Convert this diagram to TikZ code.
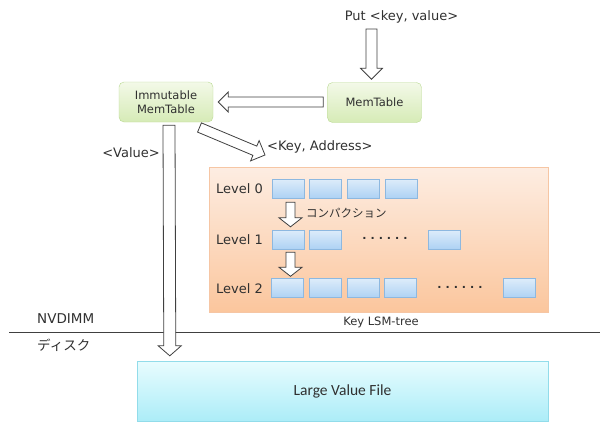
\documentclass[tikz,border=0pt]{standalone}
\usepackage{fontspec}
\setmainfont{DejaVu Sans}
\newfontfamily\jpfont{Noto Sans CJK JP}
\newfontfamily\calfont{Carlito}
\usetikzlibrary{calc}
\definecolor{txt}{HTML}{303030}
\definecolor{arr}{HTML}{404040}
\definecolor{gtop}{HTML}{F3F9E8}
\definecolor{gbot}{HTML}{D6EBB6}
\definecolor{gdraw}{HTML}{B9D992}
\definecolor{otop}{HTML}{FDEDE2}
\definecolor{obot}{HTML}{FBC69D}
\definecolor{odraw}{HTML}{F6C6A4}
\definecolor{btop}{HTML}{DDECFA}
\definecolor{bbot}{HTML}{AED2F4}
\definecolor{bdraw}{HTML}{8DB8E0}
\definecolor{ctop}{HTML}{E8FCFE}
\definecolor{cbot}{HTML}{ACEDF8}
\definecolor{cdraw}{HTML}{92DCEA}
\tikzset{
  x=1pt, y=-1pt,
  lbl/.style={text=txt, inner sep=0pt},
  memnode/.style={draw=gdraw, rounded corners=5pt, top color=gtop, bottom color=gbot,
     minimum width=94pt, minimum height=40pt, align=center, font=\fontsize{11.5}{14}\selectfont, text=txt, inner sep=0pt},
  sst/.style={draw=bdraw, top color=btop, bottom color=bbot,
     minimum width=32pt, minimum height=19pt, inner sep=0pt},
  blk/.style={draw=arr, fill=white, line width=0.8pt, line join=miter},
}
\newcommand\blockarrow[5]{% start, end, half shaft, half head, head length
  \draw[blk] ($(#1)!#3!90:(#2)$) -- ($($(#2)!#5!(#1)$)!#3!90:(#2)$)
    -- ($($(#2)!#5!(#1)$)!#4!90:(#2)$) -- (#2)
    -- ($($(#2)!#5!(#1)$)!#4!-90:(#2)$) -- ($($(#2)!#5!(#1)$)!#3!-90:(#2)$)
    -- ($(#1)!#3!-90:(#2)$) -- cycle;}
\newcommand\dotrow{.\hspace{4pt}.\hspace{4pt}.\hspace{4pt}.\hspace{4pt}.\hspace{4pt}.}
\begin{document}
\begin{tikzpicture}
\useasboundingbox (0,0) rectangle (600,423);
% texts top
\node[lbl, font=\fontsize{13}{15}\selectfont] (put) at (401.5,17) {Put <key, value>};
\node[memnode] (mem) at (374.5,102.5) {MemTable};
\node[memnode] (imm) at (166,102) {Immutable\\MemTable};
% orange region
\node[draw=odraw, top color=otop, bottom color=obot, minimum width=339pt, minimum height=145pt, inner sep=0pt] (lsm) at (378.5,239.5) {};
\node[lbl, font=\fontsize{11.5}{14}\selectfont] (lsmlbl) at (381,322) {Key LSM-tree};
% levels
\foreach \i/\yy in {0/189, 1/240, 2/289}
  \node[lbl, font=\fontsize{13}{15}\selectfont, anchor=east] (lv\i) at (263,\yy) {Level \i};
\foreach \n/\xx in {a/288.5, b/325.5, c/363.5, d/401.5}
  \node[sst] (s0\n) at (\xx,188.5) {};
\foreach \n/\xx in {a/288.5, b/325.5, z/444.5}
  \node[sst] (s1\n) at (\xx,239.5) {};
\foreach \n/\xx in {a/287.5, b/325.5, c/363.5, d/400.5, z/519.5}
  \node[sst] (s2\n) at (\xx,288) {};
\node[lbl, font=\fontsize{11}{13}\bfseries\selectfont] (dots1) at (385,238) {\dotrow};
\node[lbl, font=\fontsize{11}{13}\bfseries\selectfont] (dots2) at (460,287) {\dotrow};
\coordinate (c1s) at ($(s0a.south)+(2,4)$);
\coordinate (c1e) at ($(s1a.north)+(2,-3)$);
\coordinate (c2s) at ($(s1a.south)+(2,3)$);
\coordinate (c2e) at ($(s2a.north)+(3,-2)$);
\blockarrow{c1s}{c1e}{4.5pt}{11.5pt}{9pt}
\blockarrow{c2s}{c2e}{4.5pt}{11.5pt}{9pt}
\node[lbl, font=\jpfont\fontsize{11.5}{13}\selectfont, anchor=west] (comp) at (306,213) {コンパクション};
% divider
\coordinate (l0) at (9,332);
\coordinate (l1) at (600,332);
\draw[arr, line width=0.8pt] (l0) -- (l1);
\node[lbl, font=\fontsize{13.5}{15}\selectfont, anchor=west] (nv) at (37,319) {NVDIMM};
\node[lbl, font=\jpfont\fontsize{13.5}{15}\selectfont, anchor=west] (disk) at (37,345) {ディスク};
% large value file
\node[draw=cdraw, top color=ctop, bottom color=cbot, minimum width=411pt, minimum height=60pt, inner sep=0pt, text=txt, font=\calfont\fontsize{15.5}{18}\selectfont] (lvf) at (342.5,391) {Large Value File};
% arrows
\coordinate (p1) at (371.5,29);
\coordinate (p2) at ($(mem.north)+(-3,-3)$);
\blockarrow{p1}{p2}{5.5pt}{11pt}{11pt}
\coordinate (m1) at ($(mem.west)+(-4,-0.5)$);
\coordinate (m2) at ($(imm.east)+(5,0)$);
\blockarrow{m1}{m2}{5pt}{10pt}{10pt}
\coordinate (k1) at (199.5,127.5);
\coordinate (k2) at (265,155);
\blockarrow{k1}{k2}{5pt}{11pt}{11pt}
\node[lbl, font=\fontsize{13}{15}\selectfont, anchor=west] (ka) at (267,147) {<Key, Address>};
\coordinate (v1) at ($(imm.south)+(3,3)$);
\coordinate (v2) at ($(lvf.north west)+(33,-5)$);
\blockarrow{v1}{v2}{6pt}{11.5pt}{10pt}
\node[lbl, font=\fontsize{13}{15}\selectfont] (val) at (131,153) {<Value>};
\end{tikzpicture}
\end{document}
